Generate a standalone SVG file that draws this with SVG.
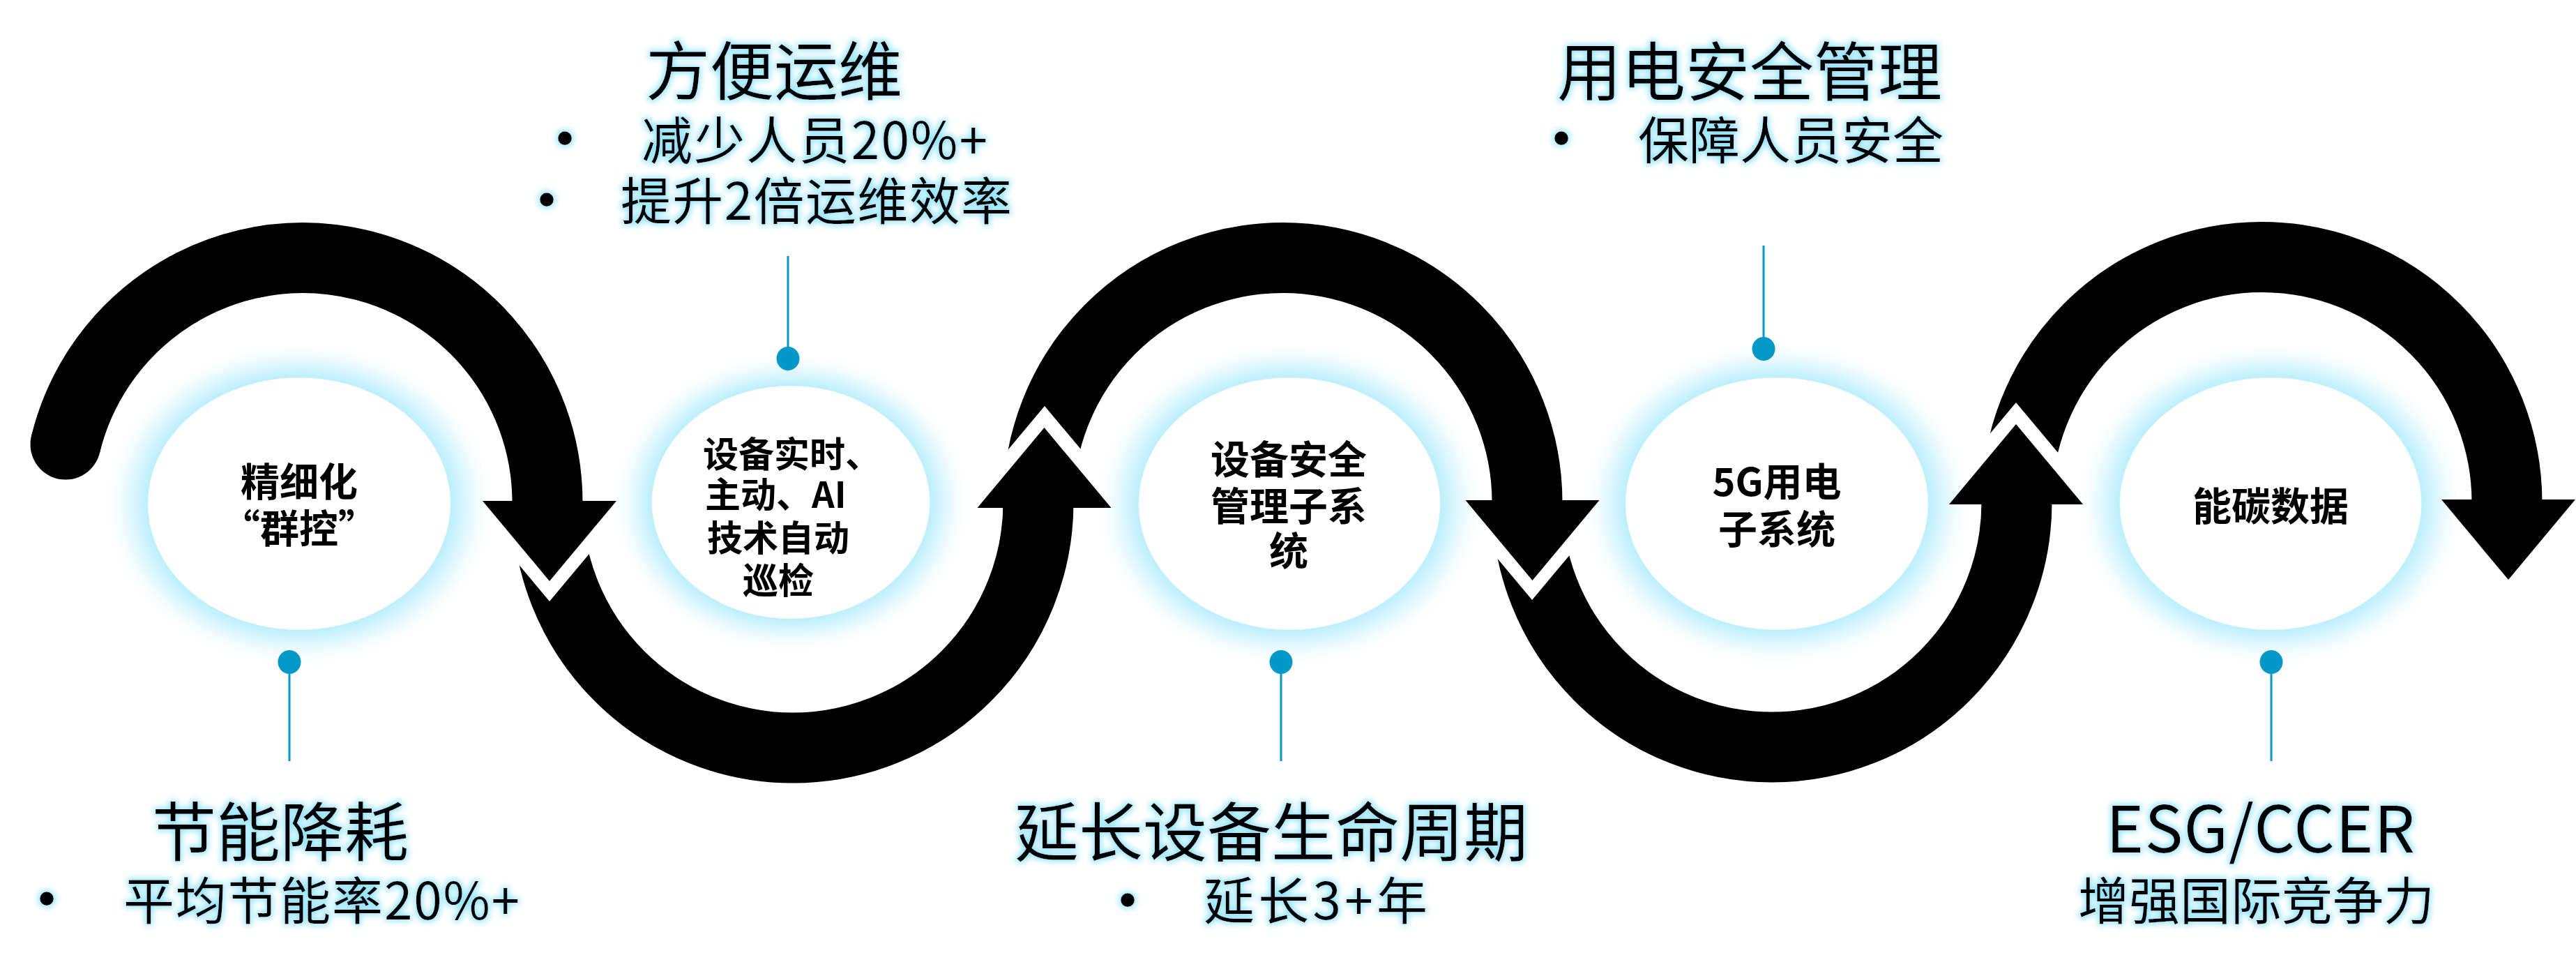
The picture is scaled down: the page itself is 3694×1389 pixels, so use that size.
<svg xmlns="http://www.w3.org/2000/svg" width="3694" height="1389" viewBox="0 0 3694 1389">
<defs>
<style>
.t{font-family:"Noto Sans CJK SC","Noto Sans",sans-serif;fill:#000}
.title{font-size:92px}
.sub{font-size:73px}
.mid{text-anchor:middle}
.node{font-size:56px;font-weight:700;text-anchor:middle}
.n2{font-size:51px;font-weight:700}
.bul{font-family:"Liberation Sans",sans-serif;font-size:73px;text-anchor:middle;fill:#000}
.glow{filter:url(#tg)}
.arc{fill:none;stroke:#000;stroke-width:101}
.head{fill:#000}
.lead{stroke:#0398c8;stroke-width:3;fill:none}
.dot{fill:#0398c8}
.halo{fill:url(#halo)}
</style>
<radialGradient id="halo" cx="0.5" cy="0.5" r="0.5">
<stop offset="0" stop-color="#fff"/>
<stop offset="0.766" stop-color="#fff"/>
<stop offset="0.772" stop-color="#bdeffd"/>
<stop offset="0.87" stop-color="#e3f8fe"/>
<stop offset="1" stop-color="#fff" stop-opacity="0"/>
</radialGradient>
<filter id="tg" x="-15%" y="-40%" width="130%" height="180%">
<feMorphology in="SourceAlpha" operator="dilate" radius="2" result="d"/>
<feGaussianBlur in="d" stdDeviation="5" result="b"/>
<feFlood flood-color="#8fe2fa"/>
<feComposite in2="b" operator="in" result="g"/>
<feMerge><feMergeNode in="g"/><feMergeNode in="SourceGraphic"/></feMerge>
</filter>
<mask id="m2" maskUnits="userSpaceOnUse" x="0" y="0" width="3694" height="1389">
<rect width="3694" height="1389" fill="#fff"/>
<polygon points="608,647 788,862 968,647 968,600 608,600" fill="#000"/>
</mask>
<mask id="m3" maskUnits="userSpaceOnUse" x="0" y="0" width="3694" height="1389">
<rect width="3694" height="1389" fill="#fff"/>
<polygon points="1318,797 1498,582 1678,797 1678,850 1318,850" fill="#000"/>
</mask>
<mask id="m4" maskUnits="userSpaceOnUse" x="0" y="0" width="3694" height="1389">
<rect width="3694" height="1389" fill="#fff"/>
<polygon points="2017,645 2197,860 2377,645 2377,600 2017,600" fill="#000"/>
</mask>
<mask id="m5" maskUnits="userSpaceOnUse" x="0" y="0" width="3694" height="1389">
<rect width="3694" height="1389" fill="#fff"/>
<polygon points="2711,792 2891,577 3071,792 3071,850 2711,850" fill="#000"/>
</mask>
</defs>
<rect width="3694" height="1389" fill="#fff"/>

<g id="halos">
<ellipse class="halo" cx="429" cy="722" rx="282" ry="235"/>
<ellipse class="halo" cx="1134" cy="720" rx="259" ry="217"/>
<ellipse class="halo" cx="1849" cy="722" rx="281" ry="235"/>
<ellipse class="halo" cx="2548" cy="722" rx="282" ry="235"/>
<ellipse class="halo" cx="3256" cy="722" rx="281" ry="235"/>
</g>

<g id="flow-connectors">
<circle cx="94" cy="637" r="50.5" fill="#000"/>
<path class="arc" d="M94 637 A350.5 350.5 0 0 1 785 720"/>
<polygon class="head" points="692,718 884,718 788,833"/>
<path class="arc" mask="url(#m2)" d="M785 720 A352 352 0 0 0 1489 720"/>
<polygon class="head" points="1401.5,728 1593.5,728 1497.5,613"/>
<path class="arc" mask="url(#m3)" d="M1489 720 A350.5 350.5 0 0 1 2190 720"/>
<polygon class="head" points="2101.5,717 2293.5,717 2197.5,832"/>
<path class="arc" mask="url(#m4)" d="M2190 720 A351 351 0 0 0 2892 720"/>
<polygon class="head" points="2795,723 2987,723 2891,608"/>
<path class="arc" mask="url(#m5)" d="M2892 720 A351.5 351.5 0 0 1 3595 720"/>
<polygon class="head" points="3501,716 3693,716 3597,831"/>
</g>

<g id="leader-connectors">
<line class="lead" x1="415" y1="949" x2="415" y2="1091"/>
<ellipse class="dot" cx="415" cy="949" rx="16.5" ry="17"/>
<line class="lead" x1="1130" y1="367" x2="1130" y2="514"/>
<ellipse class="dot" cx="1130" cy="514" rx="16.5" ry="17"/>
<line class="lead" x1="1837" y1="949" x2="1837" y2="1091"/>
<ellipse class="dot" cx="1837" cy="949" rx="16.5" ry="17"/>
<line class="lead" x1="2529" y1="352" x2="2529" y2="500"/>
<ellipse class="dot" cx="2529" cy="500" rx="16.5" ry="17"/>
<line class="lead" x1="3257" y1="949" x2="3257" y2="1091"/>
<ellipse class="dot" cx="3257" cy="949" rx="16.5" ry="17"/>
</g>

<g id="node-1">
<text class="t node" x="429" y="711">精细化</text>
<text class="t node" x="429" y="778">“群控”</text>
</g>
<g id="node-2">
<text class="t n2" x="1008" y="670">设备实时、</text>
<text class="t n2" x="1011" y="728">主动、AI</text>
<text class="t n2 mid" x="1116" y="790">技术自动</text>
<text class="t n2 mid" x="1116" y="851">巡检</text>
</g>
<g id="node-3">
<text class="t node" x="1848" y="679">设备安全</text>
<text class="t node" x="1848" y="746">管理子系</text>
<text class="t node" x="1848" y="810">统</text>
</g>
<g id="node-4">
<text class="t node" x="2548" y="711">5G用电</text>
<text class="t node" x="2548" y="779">子系统</text>
</g>
<g id="node-5">
<text class="t node" x="3256" y="746">能碳数据</text>
</g>

<g id="label-1" class="glow">
<text class="t title mid" x="402" y="1227">节能降耗</text>
<text class="bul" x="67" y="1312">•</text>
<text class="t sub" x="177" y="1318" textLength="568" lengthAdjust="spacing">平均节能率20%+</text>
</g>
<g id="label-2" class="glow">
<text class="t title mid" x="1110" y="136">方便运维</text>
<text class="bul" x="810" y="222">•</text>
<text class="t sub" x="920" y="228" textLength="496" lengthAdjust="spacing">减少人员20%+</text>
<text class="bul" x="784" y="310">•</text>
<text class="t sub" x="890" y="315" textLength="561" lengthAdjust="spacing">提升2倍运维效率</text>
</g>
<g id="label-3" class="glow">
<text class="t title mid" x="1823" y="1227">延长设备生命周期</text>
<text class="bul" x="1617" y="1314">•</text>
<text class="t sub" x="1726" y="1318" textLength="321" lengthAdjust="spacing">延长3+年</text>
</g>
<g id="label-4" class="glow">
<text class="t title mid" x="2509" y="137">用电安全管理</text>
<text class="bul" x="2239" y="222">•</text>
<text class="t sub" x="2349" y="228">保障人员安全</text>
</g>
<g id="label-5" class="glow">
<text class="t title" x="3020" y="1222" textLength="443" lengthAdjust="spacing">ESG/CCER</text>
<text class="t sub" x="2980" y="1318">增强国际竞争力</text>
</g>
</svg>
